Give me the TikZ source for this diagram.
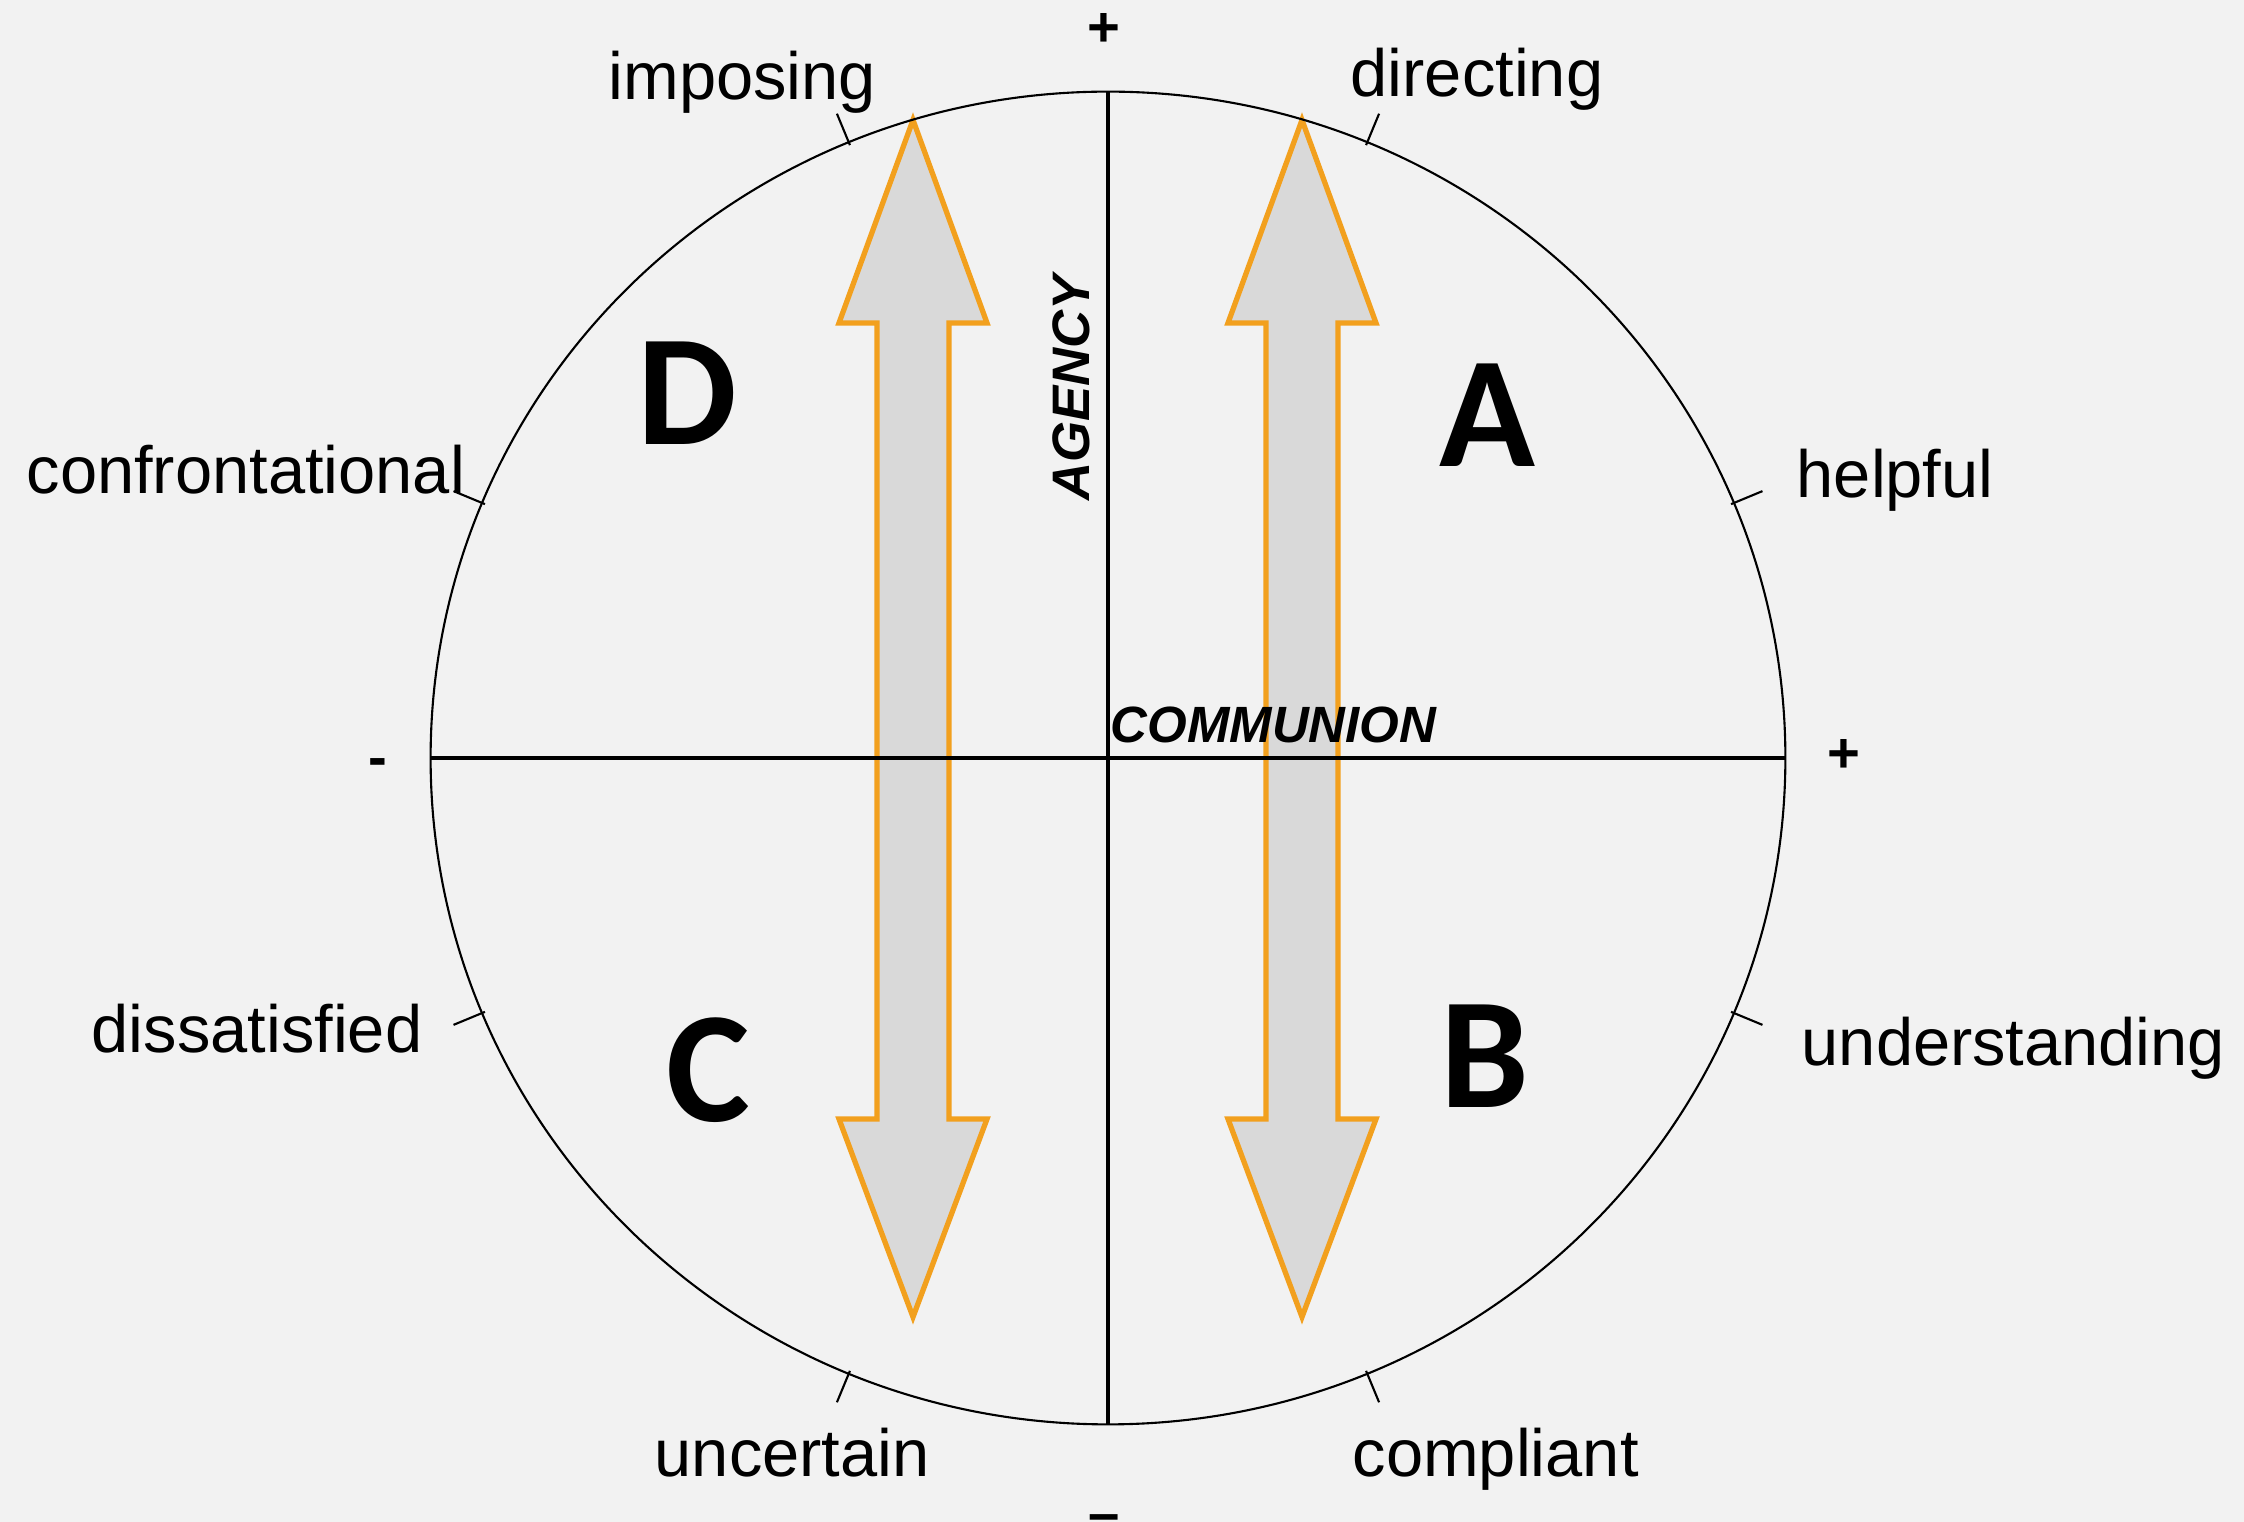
\documentclass[tikz,border=0pt]{standalone}
\usepackage{fontspec}
\setmainfont{Liberation Sans}
\newfontfamily\quadfont{Carlito}
\usepackage{xcolor}
\usepackage{tikz}
\usetikzlibrary{calc}

\definecolor{bggray}{HTML}{F2F2F2}
\definecolor{arrowgray}{HTML}{D9D9D9}
\definecolor{arrowor}{RGB}{242,160,30}

\begin{document}
\begin{tikzpicture}[
    x=0.01cm,y=-0.01cm,
    lbl/.style={anchor=base west, inner sep=0pt, font=\fontsize{19}{23}\selectfont},
    sgn/.style={anchor=base, inner sep=0pt, font=\bfseries\fontsize{16}{19}\selectfont},
    quad/.style={inner sep=0pt, font=\quadfont\bfseries\fontsize{45}{54}\selectfont},
    axlbl/.style={inner sep=0pt, font=\bfseries\itshape\fontsize{15}{18}\selectfont},
    dbl/.style={draw=arrowor, fill=arrowgray, line width=1.5pt, line join=miter},
    tick/.style={line width=0.6pt}
]
\useasboundingbox (0,0) rectangle (2244,1522);
\fill[bggray] (0,0) rectangle (2244,1522);

% Double arrows (drawn below the circle and axes)
\foreach \ax in {913,1302}
  \draw[dbl] (\ax,120) -- (\ax+74,323) -- (\ax+36,323) -- (\ax+36,1119)
    -- (\ax+74,1119) -- (\ax,1317) -- (\ax-74,1119) -- (\ax-36,1119)
    -- (\ax-36,323) -- (\ax-74,323) -- cycle;

% Circle and axes
\coordinate (c) at (1108,758);
\coordinate (top) at (1108,92);
\coordinate (bot) at (1108,1424);
\coordinate (lft) at (431,758);
\coordinate (rgt) at (1785,758);
\draw[line width=0.6pt] (c) ellipse [x radius=6.77cm, y radius=6.66cm];
\draw[line width=0.9pt] (top) -- (bot);
\draw[line width=0.9pt] (lft) -- (rgt);

% Ticks on the circle
\foreach \a in {22.5,67.5,...,337.5}
  \draw[tick] ($(c)+(\a:6.74cm and 6.63cm)$) -- ($(c)+(\a:7.08cm and 6.97cm)$);

% Axis names and signs
\node[axlbl, anchor=base west, font=\bfseries\itshape\fontsize{14.5}{17}\selectfont] (comm) at (1110,743) {COMMUNION};
\node[axlbl, rotate=90] (agency) at (1071,388) {AGENCY};
\node[sgn] (plustop) at (1104,47) {+};
\node[sgn] (plusrgt) at (1844,773) {+};
\node[sgn] (minlft) at (378,777) {-};
\node[sgn] (minbot) at (1104,1532) {–};

% Quadrant letters
\node[quad] (qd) at (687,393) {D};
\node[quad] (qa) at (1487,415) {A};
\node[quad] (qc) at (708,1070) {C};
\node[quad] (qb) at (1485,1056) {B};

% Labels round the circle
\node[lbl] (imposing) at (608,100) {imposing};
\node[lbl] (directing) at (1350,97) {directing};
\node[lbl] (confront) at (26,494) {confrontational};
\node[lbl] (helpful) at (1796,498) {helpful};
\node[lbl] (dissat) at (91,1053) {dissatisfied};
\node[lbl] (underst) at (1801,1066) {understanding};
\node[lbl] (uncertain) at (654,1477) {uncertain};
\node[lbl] (compliant) at (1352,1477) {compliant};
\end{tikzpicture}
\end{document}
